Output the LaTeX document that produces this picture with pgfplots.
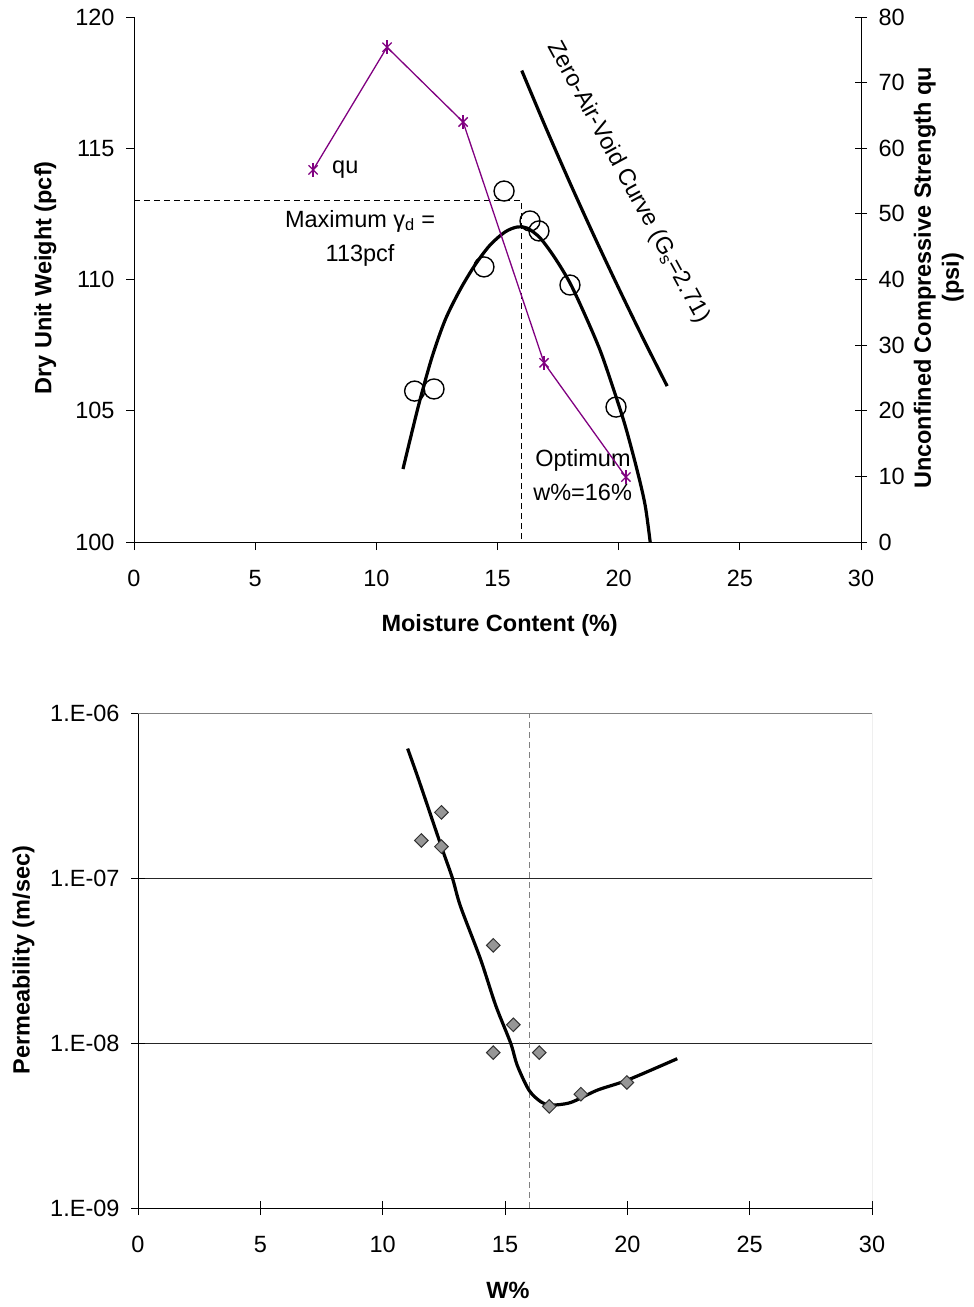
\documentclass[border=0pt]{standalone}
\usepackage{fontspec}
\setmainfont{Liberation Sans}
\usepackage{pgfplots}
\usepackage{pgfplotstable}
\pgfplotsset{compat=1.18}
\definecolor{qupurple}{RGB}{128,0,128}
\definecolor{diafill}{RGB}{150,150,150}
\definecolor{bordergray}{RGB}{128,128,128}

\pgfplotstableread{
w gamma
11.58 105.75
12.38 105.83
14.44 110.48
15.27 113.37
16.34 112.23
16.71 111.85
17.99 109.79
19.89 105.14
}\proctor

\pgfplotstableread{
w gamma
11.10 102.78
11.39 103.89
11.80 105.41
12.30 107.05
12.84 108.46
13.45 109.60
14.07 110.55
14.69 111.31
15.31 111.81
15.81 112.00
16.22 111.96
16.76 111.58
17.37 110.82
17.99 109.87
18.61 108.65
19.23 107.31
19.73 105.98
20.26 104.46
20.76 102.74
21.09 101.41
21.30 100.00
}\compcurve

\pgfplotstableread{
w gamma
16 117.96
17 115.77
18 113.66
19 111.63
20 109.67
21 107.77
22 105.94
}\zav

\pgfplotstableread{
w qu
7.39 56.7
10.44 75.4
13.58 64.0
16.92 27.3
20.30 9.9
}\qudata

\pgfplotstableread{
w k
12.40 2.50e-7
11.58 1.69e-7
12.40 1.55e-7
14.52 3.91e-8
15.34 1.29e-8
14.52 8.75e-9
16.40 8.75e-9
16.81 4.13e-9
18.10 4.90e-9
19.98 5.77e-9
}\permpts

\pgfplotstableread{
w k
11.02 6.09e-7
11.48 3.91e-7
12.40 1.55e-7
12.85 1.00e-7
13.18 6.74e-8
14.00 3.22e-8
14.62 1.69e-8
15.23 1.00e-8
15.50 7.33e-9
15.98 5.18e-9
16.46 4.41e-9
16.86 4.21e-9
17.68 4.36e-9
18.77 5.18e-9
20.00 5.96e-9
22.04 8.04e-9
}\permcurve

\begin{document}
\begin{tikzpicture}[x=1bp,y=1bp]
\useasboundingbox (0,0) rectangle (973,-1307);
\pgfplotsset{
  every axis/.append style={
    scale only axis,
    font=\fontsize{23.5bp}{28bp}\selectfont,
    tick label style={font=\fontsize{23.5bp}{28bp}\selectfont},
    label style={font=\bfseries\fontsize{23.5bp}{28bp}\selectfont},
    /pgf/number format/assume math mode=true,
    tick style={black, line width=0.8bp},
    major tick length=8bp,
    axis line style={line width=1bp},
  }
}

% ---------------- Top chart: left axis ----------------
\begin{axis}[
  at={(134bp,-542bp)}, anchor=south west,
  width=727bp, height=525bp,
  xmin=0, xmax=30, ymin=100, ymax=120,
  xtick={0,5,...,30}, ytick={100,105,...,120},
  axis x line*=bottom, axis y line*=left,
  tick align=outside,
  xticklabel shift=17bp, yticklabel shift=8bp,
  xlabel={Moisture Content (\%)},
  ylabel={Dry Unit Weight (pcf)},
  xlabel style={at={(axis description cs:0.503,-0.158)}, anchor=center},
  ylabel style={at={(axis description cs:-0.122,0.503)}, anchor=center},
]
\addplot[black, line width=0.8bp, dash pattern=on 6bp off 4bp] coordinates {(0,113) (16,113) (16,100)};
\addplot[black, line width=3.2bp, smooth] table[x=w, y=gamma] {\compcurve};
\addplot[black, line width=3.2bp, smooth] table[x=w, y=gamma] {\zav};
\addplot[only marks, mark=o, mark size=10bp, mark options={black, line width=1.4bp}] table[x=w, y=gamma] {\proctor};
\node[anchor=west, inner sep=0pt] at (axis cs:8.17,114.17) {qu};
\node at (axis cs:9.33,112.23) {Maximum γ\textsubscript{d} =};
\node at (axis cs:9.33,110.93) {113pcf};
\node[anchor=west, inner sep=0pt] at (axis cs:16.55,103.09) {Optimum};
\node[anchor=west, inner sep=0pt] at (axis cs:16.47,101.90) {w\%=16\%};
\node[rotate=-61.5] at (axis cs:20.39,113.71) {Zero-Air-Void Curve (G\textsubscript{s}=2.71)};
\end{axis}

% ---------------- Top chart: right axis ----------------
\begin{axis}[
  at={(134bp,-542bp)}, anchor=south west,
  width=727bp, height=525bp,
  xmin=0, xmax=30, ymin=0, ymax=80,
  ytick={0,10,...,80},
  axis y line*=right, axis x line=none,
  tick align=center, major tick length=12bp,
  yticklabel shift=8bp,
  ylabel={Unconfined Compressive Strength qu\\(psi)},
  ylabel style={align=center, at={(axis description cs:1.107,0.503)}, anchor=center, rotate=0},
]
\addplot[qupurple, line width=1.3bp, mark=x, mark size=6.5bp, mark options={line width=1.3bp}] table[x=w, y=qu] {\qudata};
\addplot[qupurple, only marks, mark=|, mark size=7bp, mark options={line width=1.3bp}] table[x=w, y=qu] {\qudata};
\end{axis}

% ---------------- Bottom chart ----------------
\begin{axis}[
  at={(138bp,-1208bp)}, anchor=south west,
  width=734bp, height=495bp,
  xmin=0, xmax=30, ymode=log, ymin=1e-9, ymax=1e-6,
  xtick={0,5,...,30},
  ytick={1e-9,1e-8,1e-7,1e-6},
  yticklabels={1.E-09,1.E-08,1.E-07,1.E-06},
  yminorticks=false,
  axis x line*=bottom, axis y line*=left,
  tick align=center, major tick length=14bp,
  xticklabel shift=18bp, yticklabel shift=8bp,
  ymajorgrids, grid style={black!85, line width=0.8bp},
  xlabel={W\%},
  ylabel={Permeability (m/sec)},
  xlabel style={at={(axis description cs:0.504,-0.166)}, anchor=center},
  ylabel style={at={(axis description cs:-0.156,0.501)}, anchor=center},
]
\draw[bordergray, line width=1bp] (rel axis cs:0,1) -- (rel axis cs:1,1) -- (rel axis cs:1,0);
\addplot[bordergray, line width=0.8bp, dash pattern=on 6bp off 4bp] coordinates {(16,1e-9) (16,1e-6)};
\addplot[black, line width=3.2bp, smooth] table[x=w, y=k] {\permcurve};
\addplot[only marks, mark=square*, mark size=4.8bp, mark options={rotate=45, fill=diafill, draw=black!80, line width=1bp}] table[x=w, y=k] {\permpts};
\end{axis}
\end{tikzpicture}
\end{document}
